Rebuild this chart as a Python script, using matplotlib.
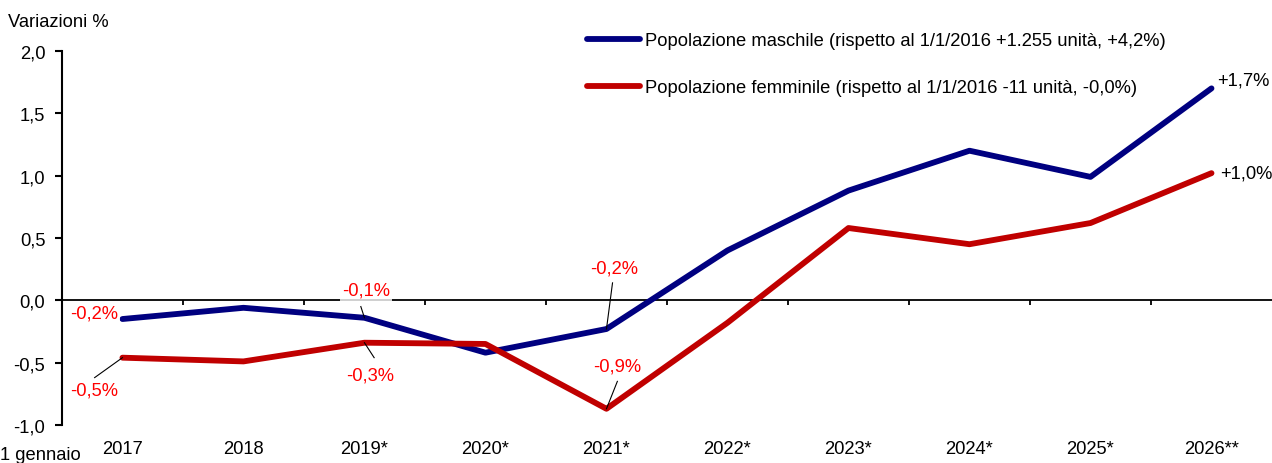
import matplotlib.pyplot as plt
import numpy as np

# Dati: variazioni % della popolazione al 1 gennaio
anni = ["2017", "2018", "2019*", "2020*", "2021*", "2022*", "2023*", "2024*", "2025*", "2026**"]
maschi = [-0.15, -0.06, -0.14, -0.42, -0.23, 0.40, 0.88, 1.20, 0.99, 1.70]
femmine = [-0.46, -0.49, -0.34, -0.35, -0.87, -0.18, 0.58, 0.45, 0.62, 1.02]

lab_maschi = "Popolazione maschile (rispetto al 1/1/2016 +1.255 unità, +4,2%)"
lab_femmine = "Popolazione femminile (rispetto al 1/1/2016 -11 unità, -0,0%)"

blu = "#000080"
rosso = "#C00000"
rosso_testo = "#FF0000"
fs = 13.2

plt.rcParams['font.family'] = ['Liberation Sans', 'DejaVu Sans']

fig = plt.figure(figsize=(12.72, 4.64), dpi=100)
ax = fig.add_axes([0.0487, 0.0819, 0.9513, 0.8061])

x = np.arange(len(anni))
ax.plot(x, maschi, color=blu, lw=4.2, solid_capstyle='round', label=lab_maschi, zorder=3)
ax.plot(x, femmine, color=rosso, lw=4.2, solid_capstyle='round', label=lab_femmine, zorder=3)

# asse dello zero e tacche tra le categorie
ax.axhline(0, color='black', lw=1.3, zorder=1)
ax.vlines(np.arange(0.5, len(anni) - 0.5, 1), -0.04, 0, color='black', lw=1.3, zorder=1)

ax.set_xlim(-0.5, len(anni) - 0.5)
ax.set_ylim(-1.0, 2.0)
ax.set_yticks(np.arange(-1.0, 2.01, 0.5))
ax.set_yticklabels([f"{v:.1f}".replace(".", ",") for v in np.arange(-1.0, 2.01, 0.5)])
ax.set_xticks(x)
ax.set_xticklabels(anni)
ax.tick_params(axis='x', length=0, pad=11, labelsize=fs)
ax.tick_params(axis='y', length=5, width=1.5, direction='out', labelsize=fs, pad=7)

for s in ['top', 'right', 'bottom']:
    ax.spines[s].set_visible(False)
ax.spines['left'].set_linewidth(1.5)

box = dict(boxstyle='square,pad=0.1', fc='white', ec='none', alpha=0.8)

# etichette con linee guida
def etichetta(testo, xi, yi, xt, yt, xs, ys):
    ax.text(xt, yt, testo, color=rosso_testo, fontsize=fs, ha='center', va='center',
            bbox=box, zorder=4)
    ax.plot([xs, xi], [ys, yi], color='black', lw=0.8, zorder=4)

ax.text(-0.23, -0.10, "-0,2%", color=rosso_testo, fontsize=fs, ha='center', va='center',
        bbox=box, zorder=4)
etichetta("-0,1%", 2, maschi[2], 2.01, 0.08, 1.97, -0.05)
etichetta("-0,3%", 2, femmine[2], 2.05, -0.60, 2.08, -0.46)
etichetta("-0,5%", 0, femmine[0], -0.23, -0.72, -0.23, -0.62)
etichetta("-0,2%", 4, maschi[4], 4.06, 0.26, 4.05, 0.14)
etichetta("-0,9%", 4, femmine[4], 4.09, -0.53, 4.09, -0.65)

ax.text(9.05, 1.77, "+1,7%", fontsize=fs, ha='left', va='center')
ax.text(9.07, 1.02, "+1,0%", fontsize=fs, ha='left', va='center')

ax.legend(loc='upper left', bbox_to_anchor=(0.42, 1.094), frameon=False, fontsize=fs,
          handlelength=2.9, handletextpad=0.3, labelspacing=1.62)

fig.text(0.006, 0.952, "Variazioni %", fontsize=fs, ha='left', va='center')
fig.text(0.0, 0.0, "1 gennaio", fontsize=fs, ha='left', va='bottom')

plt.savefig("out.png", dpi=100)
